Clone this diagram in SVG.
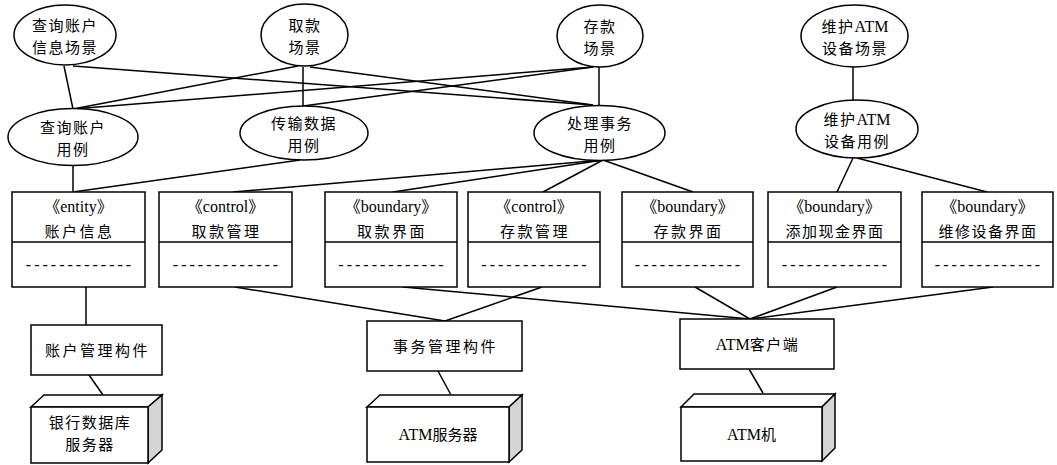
<svg xmlns="http://www.w3.org/2000/svg" width="1057" height="465" viewBox="0 0 1057 465">
<style>
  .shape { fill: #ffffff; stroke: #000000; stroke-width: 1.5; }
  .side { fill: #d4d4d4; stroke: #000000; stroke-width: 1.5; stroke-linejoin: miter; }
  .conn line { stroke: #000000; stroke-width: 1.5; }
  .div { stroke: #000000; stroke-width: 1.5; }
  text { font-family: "Liberation Serif", "Noto Sans CJK SC", serif; font-size: 15px; fill: #000000; text-anchor: middle; }
  .t { letter-spacing: 1.5px; }
  .tw { letter-spacing: 2.5px; }
  .st { font-size: 16px; }
  .lat { font-size: 16px; letter-spacing: 0px; }
  .dash { font-size: 16px; letter-spacing: 3px; }
</style>
<rect width="1057" height="465" fill="#ffffff"/>

<g id="connectors" class="conn">
  <line x1="64" y1="66" x2="73" y2="109"/>
  <line x1="73" y1="66" x2="593" y2="105"/>
  <line x1="298" y1="66" x2="73" y2="109"/>
  <line x1="303" y1="67" x2="303" y2="106"/>
  <line x1="310" y1="67" x2="593" y2="105"/>
  <line x1="593" y1="67" x2="73" y2="109"/>
  <line x1="593" y1="67" x2="303" y2="106"/>
  <line x1="599" y1="67" x2="599" y2="105"/>
  <line x1="73" y1="165" x2="73" y2="192"/>
  <line x1="300" y1="160" x2="73" y2="192"/>
  <line x1="603" y1="160" x2="233" y2="192"/>
  <line x1="603" y1="160" x2="393" y2="192"/>
  <line x1="603" y1="160" x2="543" y2="192"/>
  <line x1="603" y1="160" x2="693" y2="192"/>
  <line x1="853" y1="67" x2="853" y2="100"/>
  <line x1="853" y1="158" x2="837" y2="192"/>
  <line x1="857" y1="158" x2="987" y2="192"/>
  <line x1="86" y1="287" x2="86" y2="325"/>
  <line x1="89" y1="375" x2="103" y2="395"/>
  <line x1="235" y1="287" x2="445" y2="321"/>
  <line x1="542" y1="287" x2="445" y2="321"/>
  <line x1="438" y1="371" x2="451" y2="395"/>
  <line x1="403" y1="287" x2="750" y2="319"/>
  <line x1="695" y1="287" x2="750" y2="319"/>
  <line x1="837" y1="287" x2="750" y2="319"/>
  <line x1="993" y1="287" x2="750" y2="319"/>
  <line x1="749" y1="369" x2="763" y2="393"/>
</g>

<!-- scenario ellipses -->
<g id="scene-query">
  <ellipse class="shape" cx="65" cy="35" rx="51" ry="30"/>
  <text class="t" x="65" y="31">查询账户</text>
  <text class="t" x="65" y="53">信息场景</text>
</g>
<g id="scene-withdraw">
  <ellipse class="shape" cx="304.5" cy="35" rx="43.5" ry="31"/>
  <text class="t" x="305" y="31">取款</text>
  <text class="t" x="305" y="53">场景</text>
</g>
<g id="scene-deposit">
  <ellipse class="shape" cx="600" cy="36" rx="43" ry="31"/>
  <text class="t" x="600" y="32">存款</text>
  <text class="t" x="600" y="54">场景</text>
</g>
<g id="scene-maintain">
  <ellipse class="shape" cx="854.5" cy="36" rx="53.5" ry="31"/>
  <text class="t" x="855" y="32">维护<tspan class="lat">ATM</tspan></text>
  <text class="t" x="855" y="54">设备场景</text>
</g>

<!-- use case ellipses -->
<g id="uc-query">
  <ellipse class="shape" cx="73" cy="137" rx="65" ry="28.5"/>
  <text class="t" x="73" y="133">查询账户</text>
  <text class="t" x="73" y="155">用例</text>
</g>
<g id="uc-transfer">
  <ellipse class="shape" cx="304" cy="133" rx="64" ry="27"/>
  <text class="t" x="304" y="129">传输数据</text>
  <text class="t" x="304" y="151">用例</text>
</g>
<g id="uc-transaction">
  <ellipse class="shape" cx="599.5" cy="133" rx="65.5" ry="27.5"/>
  <text class="t" x="600" y="129">处理事务</text>
  <text class="t" x="600" y="151">用例</text>
</g>
<g id="uc-maintain">
  <ellipse class="shape" cx="857" cy="129" rx="61" ry="29"/>
  <text class="t" x="857" y="125">维护<tspan class="lat">ATM</tspan></text>
  <text class="t" x="857" y="147">设备用例</text>
</g>

<!-- class boxes -->
<g id="cls-account">
  <rect class="shape" x="12" y="192" width="133" height="95"/>
  <line class="div" x1="12" y1="242" x2="145" y2="242"/>
  <text class="st" x="78.5" y="212">《entity》</text>
  <text class="tw" x="79.5" y="237">账户信息</text>
  <text class="dash" x="80" y="270">-------------</text>
</g>
<g id="cls-withdraw-ctrl">
  <rect class="shape" x="159" y="192" width="133" height="95"/>
  <line class="div" x1="159" y1="242" x2="292" y2="242"/>
  <text class="st" x="225.5" y="212">《control》</text>
  <text class="tw" x="226.5" y="237">取款管理</text>
  <text class="dash" x="227" y="270">-------------</text>
</g>
<g id="cls-withdraw-ui">
  <rect class="shape" x="325" y="192" width="132" height="95"/>
  <line class="div" x1="325" y1="242" x2="457" y2="242"/>
  <text class="st" x="391" y="212">《boundary》</text>
  <text class="tw" x="392" y="237">取款界面</text>
  <text class="dash" x="392.5" y="270">-------------</text>
</g>
<g id="cls-deposit-ctrl">
  <rect class="shape" x="468" y="192" width="132" height="95"/>
  <line class="div" x1="468" y1="242" x2="600" y2="242"/>
  <text class="st" x="534" y="212">《control》</text>
  <text class="tw" x="535" y="237">存款管理</text>
  <text class="dash" x="535.5" y="270">-------------</text>
</g>
<g id="cls-deposit-ui">
  <rect class="shape" x="622" y="192" width="131" height="95"/>
  <line class="div" x1="622" y1="242" x2="753" y2="242"/>
  <text class="st" x="687.5" y="212">《boundary》</text>
  <text class="tw" x="688.5" y="237">存款界面</text>
  <text class="dash" x="689" y="270">-------------</text>
</g>
<g id="cls-addcash-ui">
  <rect class="shape" x="768" y="192" width="133" height="95"/>
  <line class="div" x1="768" y1="242" x2="901" y2="242"/>
  <text class="st" x="834.5" y="212">《boundary》</text>
  <text class="t" x="835" y="237">添加现金界面</text>
  <text class="dash" x="836" y="270">-------------</text>
</g>
<g id="cls-repair-ui">
  <rect class="shape" x="922" y="192" width="131" height="95"/>
  <line class="div" x1="922" y1="242" x2="1053" y2="242"/>
  <text class="st" x="987.5" y="212">《boundary》</text>
  <text class="t" x="988" y="237">维修设备界面</text>
  <text class="dash" x="989" y="270">-------------</text>
</g>

<!-- components -->
<g id="comp-account">
  <rect class="shape" x="31" y="325" width="131" height="50"/>
  <text class="tw" x="97.5" y="356">账户管理构件</text>
</g>
<g id="comp-transaction">
  <rect class="shape" x="367" y="321" width="155" height="50"/>
  <text class="tw" x="445.5" y="352">事务管理构件</text>
</g>
<g id="comp-atmclient">
  <rect class="shape" x="680" y="319" width="154" height="50"/>
  <text class="t" x="757.5" y="350"><tspan class="lat">ATM</tspan>客户端</text>
</g>

<!-- deployment nodes -->
<g id="node-bankdb">
  <polygon class="shape" points="31,407 44,395 162,395 148,407"/>
  <polygon class="side" points="148,407 162,395 162,450 148,463"/>
  <rect class="shape" x="31" y="407" width="117" height="56"/>
  <text class="t" x="90" y="428">银行数据库</text>
  <text class="t" x="90" y="450">服务器</text>
</g>
<g id="node-atmserver">
  <polygon class="shape" points="367,407 380,395 522,395 509,407"/>
  <polygon class="side" points="509,407 522,395 522,450 509,462"/>
  <rect class="shape" x="367" y="407" width="142" height="55"/>
  <text x="438" y="440"><tspan class="lat">ATM</tspan>服务器</text>
</g>
<g id="node-atm">
  <polygon class="shape" points="681,407 694,394 835,394 822,407"/>
  <polygon class="side" points="822,407 835,394 835,448 822,461"/>
  <rect class="shape" x="681" y="407" width="141" height="54"/>
  <text x="751.5" y="440"><tspan class="lat">ATM</tspan>机</text>
</g>
</svg>
